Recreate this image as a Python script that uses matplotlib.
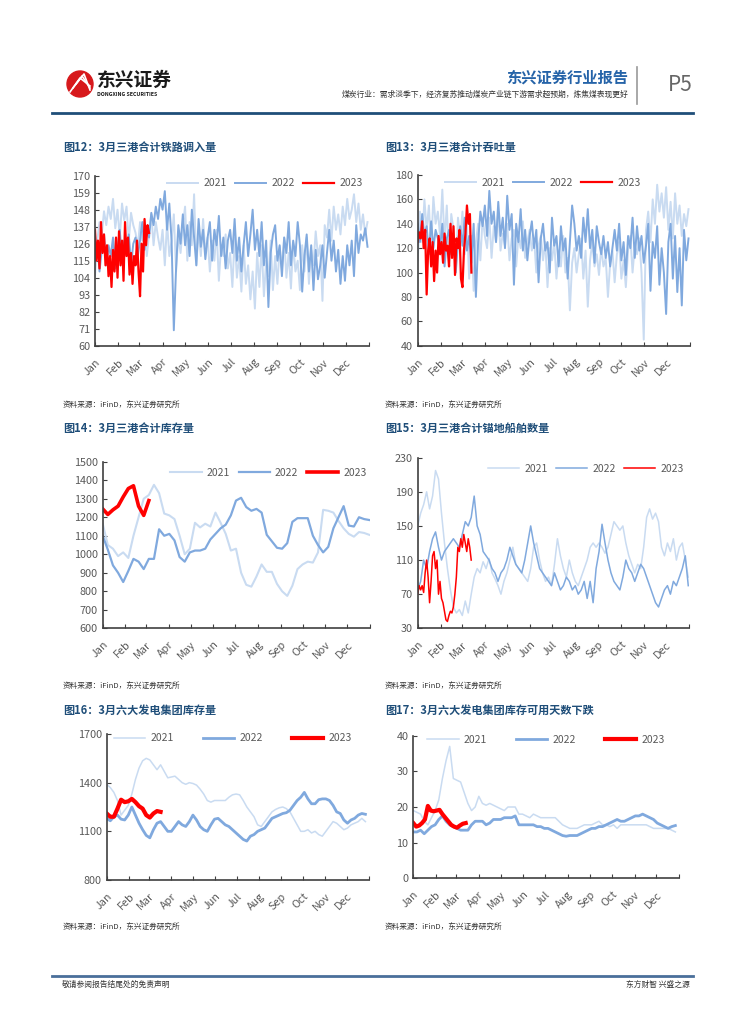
import numpy as np
import matplotlib
matplotlib.use("Agg")
import matplotlib.pyplot as plt
from matplotlib.patches import Circle

plt.rcParams['font.family'] = ['Noto Sans CJK SC', 'DejaVu Sans']

W, H = 755, 1024

months = ["Jan", "Feb", "Mar", "Apr", "May", "Jun", "Jul", "Aug", "Sep", "Oct", "Nov", "Dec"]
month_start = [0, 31, 59, 90, 120, 151, 181, 212, 243, 273, 304, 334]

# 图12 三港合计铁路调入量 (每3天取一个点)
rail_2021 = [105, 128, 140, 132, 147, 138, 150, 142, 155, 136,
             148, 130, 152, 141, 150, 128, 146, 138, 133, 124,
             140, 128, 137, 118, 132, 145, 125, 140, 130, 122,
             135, 112, 140, 118, 128, 145, 108, 132, 120, 138,
             150, 115, 140, 125, 158, 112, 135, 118, 142, 120,
             130, 108, 128, 115, 135, 102, 125, 118, 132, 110,
             120, 98, 130, 104, 118, 95, 125, 100, 112, 90,
             108, 84, 120, 98, 125, 92, 115, 105, 128, 96,
             118, 100, 124, 110, 130, 104, 120, 97, 126, 108,
             115, 96, 125, 108, 130, 100, 122, 112, 134, 118,
             125, 89, 138, 130, 148, 128, 150, 135, 145, 132,
             150, 138, 155, 142, 148, 158, 140, 152, 135, 145, 132, 140]
rail_2022 = [115, 128, 108, 122, 132, 112, 125, 118, 130, 110,
             122, 135, 115, 128, 120, 132, 112, 126, 130, 118,
             128, 140, 122, 135, 130, 146, 138, 150, 142, 155,
             148, 160, 135, 152, 128, 70, 110, 138, 126, 145,
             125, 138, 118, 148, 130, 112, 142, 124, 135, 116,
             130, 140, 115, 135, 125, 144, 118, 130, 110, 128,
             135, 120, 142, 115, 130, 108, 125, 140, 118, 132,
             148, 122, 135, 118, 140, 112, 128, 85, 120, 132,
             138, 115, 125, 105, 130, 120, 140, 112, 128, 118,
             140, 125, 95, 118, 132, 108, 125, 96, 122, 103,
             112, 125, 104, 120, 135, 115, 128, 108, 122, 100,
             118, 102, 125, 112, 128, 105, 138, 120, 132, 128, 136, 124]
rail_2023 = [135, 115, 128, 110, 140, 120, 132, 112, 125, 105, 118, 98, 122,
             108, 130, 104, 134, 112, 128, 102, 140, 118, 130, 106, 120, 100,
             118, 112, 128, 108, 92, 126, 108, 142, 125, 138, 133]

# 图13 三港合计吞吐量 (每3天)
thru_2021 = [110, 150, 125, 160, 135, 155, 118, 162, 140, 150,
             130, 168, 125, 155, 110, 148, 135, 100, 145, 128,
             150, 115, 140, 95, 130, 85, 125, 140, 110, 145,
             130, 120, 145, 112, 138, 125, 150, 118, 132, 122,
             140, 110, 128, 135, 105, 130, 120, 142, 112, 125,
             135, 118, 128, 100, 122, 130, 110, 125, 88, 120,
             110, 125, 95, 118, 105, 130, 100, 112, 69, 108,
             120, 100, 115, 128, 95, 118, 72, 110, 125, 105,
             115, 98, 120, 105, 112, 80, 108, 118, 92, 115,
             125, 95, 110, 88, 118, 130, 100, 122, 115, 128,
             100, 45, 135, 150, 125, 160, 140, 172, 150, 165,
             145, 170, 135, 158, 128, 165, 140, 155, 130, 148, 138, 152]
thru_2022 = [140, 125, 148, 130, 138, 115, 142, 120, 135, 128,
             120, 140, 105, 128, 135, 115, 130, 100, 125, 138,
             122, 145, 118, 130, 108, 140, 80, 125, 150, 138,
             155, 130, 167, 140, 150, 125, 158, 130, 145, 120,
             163, 135, 148, 90, 140, 125, 152, 118, 135, 110,
             130, 142, 120, 135, 92, 128, 140, 118, 125, 100,
             145, 122, 130, 105, 138, 118, 128, 95, 125, 155,
             140, 118, 130, 112, 145, 125, 152, 120, 135, 108,
             138, 125, 115, 130, 112, 125, 105, 120, 135, 118,
             140, 110, 125, 98, 130, 120, 145, 112, 138, 118,
             130, 108, 122, 140, 85, 125, 112, 138, 90, 120,
             100, 66, 125, 140, 95, 130, 84, 120, 73, 135, 110, 128]
thru_2023 = [125, 133, 128, 142, 120, 135, 82, 118, 128, 105, 125, 93, 118,
             100, 130, 115, 125, 108, 132, 118, 122, 105, 140, 112, 138, 98,
             128, 120, 135, 95, 88, 118, 132, 155, 140, 148, 100]

# 图14 三港合计库存量 (周)
stock_2021 = [1165, 1050, 1030, 990, 1010, 980, 1100, 1200, 1300, 1320,
              1375, 1330, 1220, 1210, 1190, 1100, 1000, 1030, 1170, 1145,
              1165, 1150, 1225, 1170, 1110, 1020, 1030, 900, 835, 825,
              880, 945, 905, 905, 840, 800, 775, 830, 920, 945,
              960, 955, 1010, 1240, 1235, 1225, 1180, 1140, 1110, 1095,
              1120, 1115, 1105]
stock_2022 = [1100, 1025, 940, 900, 850, 910, 975, 960, 920, 975,
              975, 1135, 1100, 1110, 1075, 985, 960, 1010, 1020, 1020,
              1030, 1080, 1110, 1140, 1160, 1210, 1290, 1305, 1255, 1235,
              1245, 1225, 1105, 1070, 1035, 1030, 1060, 1175, 1195, 1195,
              1195, 1100, 1050, 1010, 1040, 1140, 1200, 1260, 1155, 1150,
              1200, 1190, 1185]
stock_2023 = [1245, 1215, 1240, 1260, 1310, 1355, 1370, 1260, 1210, 1290]

# 图15 锚地船舶数量 (每4天)
ship_2021 = [150, 165, 175, 190, 170, 185, 215, 205,
             165, 130, 100, 75, 55, 48, 52,
             45, 62, 48, 70, 90, 100, 95, 108,
             100, 112, 95, 88, 80, 70, 85,
             95, 110, 125, 105, 100, 95, 90, 85,
             100, 125, 130, 110, 95, 85, 90,
             80, 105, 135, 115, 100, 90, 110, 95,
             85, 80, 90, 100, 110, 125, 130, 125,
             130, 125, 118, 125, 140, 155, 150,
             145, 150, 130, 115, 105, 95, 105, 100,
             125, 160, 170, 158, 165, 155, 125,
             115, 130, 120, 135, 110, 125, 130, 110, 90]
ship_2022 = [75, 85, 110, 100, 120, 135, 143, 125,
             110, 120, 125, 130, 135, 130, 125,
             140, 155, 150, 160, 185, 150, 140, 120,
             115, 110, 100, 95, 85, 95, 100,
             110, 125, 115, 105, 100, 95, 110, 130,
             150, 130, 115, 100, 95, 90, 85,
             80, 95, 85, 75, 80, 90, 85, 75,
             80, 70, 75, 85, 65, 85, 60, 100,
             120, 152, 130, 110, 95, 85, 80,
             75, 90, 110, 100, 95, 85, 95, 105,
             100, 90, 80, 70, 60, 55, 65,
             75, 80, 70, 85, 80, 90, 100, 115, 80]
ship_2023 = [70, 80, 75, 80, 72, 95, 110, 90, 60, 85, 115, 120, 100, 110, 70,
             85, 65, 60, 50, 40, 38, 45, 50, 48, 55, 70, 90, 125, 120, 135,
             125, 140, 130, 120, 135, 125, 110]

# 图16 六大发电集团库存量 (每5天)
plant_2021 = [1390, 1370, 1340, 1290, 1200, 1230, 1260,
              1330, 1420, 1490, 1535, 1550,
              1540, 1510, 1480, 1510, 1470, 1430, 1435,
              1440, 1420, 1400, 1390, 1400,
              1395, 1385, 1360, 1330, 1290, 1280, 1290,
              1290, 1290, 1290, 1310, 1325,
              1330, 1325, 1290, 1250, 1220, 1190, 1140,
              1130, 1160, 1190, 1220, 1235, 1245,
              1250, 1240, 1220, 1180, 1140, 1100,
              1100, 1110, 1090, 1100, 1080, 1070,
              1100, 1130, 1160, 1150, 1130, 1110,
              1120, 1140, 1150, 1160, 1180, 1160]
plant_2022 = [1180, 1165, 1190, 1200, 1175, 1170, 1200,
              1250, 1200, 1150, 1110, 1075,
              1060, 1110, 1150, 1160, 1130, 1100, 1100,
              1130, 1160, 1140, 1130, 1160,
              1200, 1170, 1130, 1110, 1100, 1140, 1175,
              1180, 1160, 1140, 1130, 1110,
              1090, 1070, 1050, 1040, 1070, 1080, 1100,
              1110, 1120, 1150, 1180, 1190, 1200,
              1210, 1215, 1230, 1260, 1290, 1310,
              1340, 1300, 1270, 1270, 1295, 1300,
              1300, 1290, 1260, 1220, 1210, 1170,
              1150, 1170, 1180, 1200, 1210, 1205]
plant_2023 = [1210, 1190, 1190, 1240, 1295, 1280, 1285, 1300, 1280, 1255,
              1240, 1200, 1185, 1210, 1225, 1220]

# 图17 库存可用天数 (每5天, 2023每4天)
days_2021 = [19, 18.5, 18, 16, 15, 17, 19,
             22, 28, 33, 37, 28,
             27.5, 27, 24, 21, 19, 20, 23,
             21, 20.5, 21, 20.5, 20,
             19.5, 19, 20, 20, 20, 18, 18,
             17.5, 17, 18, 17.5, 17,
             17, 17, 17, 17, 16, 15, 14.5,
             14, 14, 14, 14.5, 15, 15,
             15, 15.5, 16, 15, 15, 14.5,
             15, 14, 15, 15, 15, 15,
             15, 15, 15, 15, 14.5, 14,
             14, 14, 14, 14, 13.5, 13]
days_2022 = [13, 13, 13.5, 12.5, 13.5, 14.5, 15,
             16.5, 17.5, 16, 15, 14.5,
             14, 13.5, 13.5, 13.5, 15, 16, 16,
             16, 15, 15.5, 16.5, 16.5,
             16.5, 17, 17, 17, 17.5, 15, 15,
             15, 15, 15, 14.5, 14.5,
             14, 14, 13.5, 13, 12.5, 12, 11.8,
             12, 12, 12, 12.5, 13, 13.5,
             14, 14, 14.5, 14.5, 15, 15.5,
             16, 16.5, 16, 16, 16.5, 17,
             17.5, 17.5, 18, 17.5, 17, 16.5,
             15.5, 15, 14.5, 14, 14.5, 14.8]
days_2023 = [15.5, 14.5, 14.8, 15.5, 16.5, 20.3, 19, 18.8, 19, 19.2, 18, 17,
             16, 15, 14.5, 14.2, 14.8, 15.3, 15.5]

c21 = '#c9dbf1'
c22 = '#80a9de'
c23 = '#ff0000'
title_color = '#1f4e79'
text_gray = '#595959'

fig = plt.figure(figsize=(W / 100, H / 100), dpi=100)


def px_axes(x0, y0, x1, y1):
    return fig.add_axes([x0 / W, 1 - y1 / H, (x1 - x0) / W, (y1 - y0) / H])


def panel(box, title, title_xy, src_y, yticks, series, steps, lws, legend_x, legend_y, colspace):
    ax = px_axes(*box)
    cols = [c21, c22, c23]
    labels = ['2021', '2022', '2023']
    for vals, st, lw, col, lab in zip(series, steps, lws, cols, labels):
        ax.plot(np.arange(len(vals)) * st, vals, color=col, lw=lw, label=lab,
                solid_joinstyle='round')
    ax.set_xlim(0, 365)
    ax.set_ylim(yticks[0], yticks[-1])
    ax.set_yticks(yticks)
    ax.set_xticks(month_start + [365])
    ax.set_xticklabels(months + [''], rotation=45, ha='right', rotation_mode='anchor')
    ax.tick_params(axis='both', direction='in', length=3, color='#404040',
                   labelsize=7.8, labelcolor=text_gray)
    ax.tick_params(axis='x', pad=8)
    for s in ['top', 'right']:
        ax.spines[s].set_visible(False)
    for s in ['left', 'bottom']:
        ax.spines[s].set_color('#404040')
        ax.spines[s].set_linewidth(1.2)
    leg = ax.legend(loc='upper center', bbox_to_anchor=(legend_x, legend_y), ncol=3,
                    frameon=False, fontsize=7.5, handlelength=3.0,
                    columnspacing=colspace, handletextpad=0.5)
    for t in leg.get_texts():
        t.set_color(text_gray)
    fig.text(title_xy[0] / W, 1 - title_xy[1] / H, title, fontsize=8, fontweight='bold',
             color=title_color, va='center', ha='left')
    fig.text(title_xy[0] / W, 1 - src_y / H, '资料来源：iFinD，东兴证券研究所', fontsize=5.5,
             color='#333333', va='center', ha='left', style='italic')
    return ax


panel((95, 175.7, 369, 345.7), '图12：3月三港合计铁路调入量', (63, 147), 405,
      [60, 71, 82, 93, 104, 115, 126, 137, 148, 159, 170],
      [rail_2021, rail_2022, rail_2023], [3, 3, 2], [1.4, 1.4, 1.6], 0.62, 1.04, 0.8)
panel((417.7, 175, 690, 345.7), '图13：3月三港合计吞吐量', (385, 147), 405,
      [40, 60, 80, 100, 120, 140, 160, 180],
      [thru_2021, thru_2022, thru_2023], [3, 3, 2], [1.4, 1.4, 1.6], 0.46, 1.04, 0.8)
panel((102.7, 461.7, 370, 628.3), '图14：3月三港合计库存量', (63, 428), 686,
      [600, 700, 800, 900, 1000, 1100, 1200, 1300, 1400, 1500],
      [stock_2021, stock_2022, stock_2023], [7, 7, 7], [1.5, 1.6, 2.6], 0.62, 1.02, 0.8)
panel((417.7, 457.7, 689, 628.3), '图15：3月三港合计锚地船舶数量', (385, 428), 686,
      [30, 70, 110, 150, 190, 230],
      [ship_2021, ship_2022, ship_2023], [4, 4, 2], [1.1, 1.1, 1.1], 0.62, 1.02, 0.8)
panel((106.7, 734, 369, 880), '图16：3月六大发电集团库存量', (63, 710), 927,
      [800, 1100, 1400, 1700],
      [plant_2021, plant_2022, plant_2023], [5, 5, 5], [1.1, 2.0, 3.0], 0.48, 1.07, 2.8)
panel((413.3, 735.7, 679, 878.3), '图17：3月六大发电集团库存可用天数下跌', (385, 710), 927,
      [0, 10, 20, 30, 40],
      [days_2021, days_2022, days_2023], [5, 5, 4], [1.1, 2.0, 3.0], 0.5, 1.07, 2.8)

# 页眉
hdr = fig.add_axes([0, 0, 1, 1], zorder=-1)
hdr.set_xlim(0, W)
hdr.set_ylim(H, 0)
hdr.axis('off')
hdr.add_patch(Circle((80, 84), 13, color='#d7191c'))
for k in range(3):
    hdr.plot([70 + k * 3, 80 + k * 2, 90], [92 - k * 4, 78 - k * 2, 86 + k * 2], color='white', lw=1.2)
hdr.text(97, 80, '东兴证券', fontsize=13.5, fontweight='bold', color='#1a1a1a', va='center')
hdr.text(97, 95, 'DONGXING SECURITIES', fontsize=3.8, fontweight='bold', color='#1a1a1a', va='center')
hdr.text(628, 78, '东兴证券行业报告', fontsize=11, fontweight='bold', color='#2563a8', va='center', ha='right')
hdr.text(628, 95, '煤炭行业：需求淡季下，经济复苏推动煤炭产业链下游需求超预期，炼焦煤表现更好',
         fontsize=5.6, color='#333333', va='center', ha='right')
hdr.plot([637, 637], [67, 104], color='#999999', lw=1.2)
hdr.text(680, 85, 'P5', fontsize=15, color='#666666', va='center', ha='center')
hdr.plot([52, 693], [113, 113], color='#1f4e79', lw=2)

# 页脚
hdr.plot([52, 693], [976, 976], color='#4a6f9a', lw=2)
hdr.text(62, 985, '敬请参阅报告结尾处的免责声明', fontsize=5.6, color='#333333', va='center')
hdr.text(690, 985, '东方财智 兴盛之源', fontsize=5.6, color='#333333', va='center', ha='right')

fig.savefig('out.png', dpi=100)
